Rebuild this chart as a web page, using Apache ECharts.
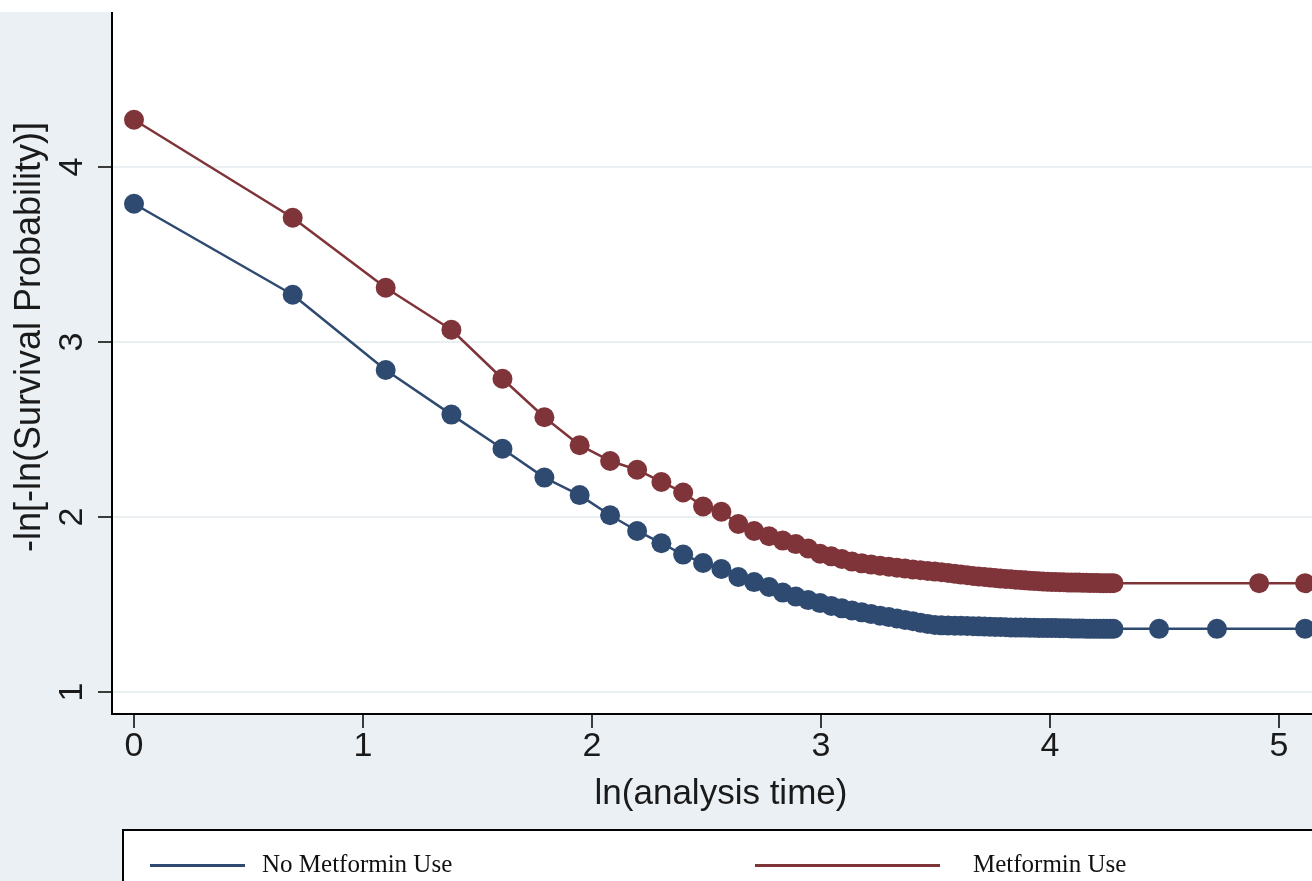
<!DOCTYPE html>
<html>
<head>
<meta charset="utf-8">
<script src="https://cdn.jsdelivr.net/npm/echarts@6/dist/echarts.min.js"></script>
<style>
html,body{margin:0;padding:0;background:#eaf0f3;}
#chart{width:1312px;height:881px;}
</style>
</head>
<body>
<div id="chart"></div>
<script>
// ln(analysis time) for the dense part of the curves
const lnTime = [0, 0.693, 1.099, 1.386, 1.609, 1.792, 1.946, 2.079, 2.197, 2.303,
  2.398, 2.485, 2.565, 2.639, 2.708, 2.773, 2.833, 2.890, 2.944, 2.996,
  3.045, 3.091, 3.135, 3.178, 3.219, 3.258, 3.296, 3.332, 3.367, 3.401,
  3.434, 3.466, 3.497, 3.526, 3.555, 3.584, 3.611, 3.638, 3.664, 3.689,
  3.714, 3.738, 3.761, 3.784, 3.807, 3.829, 3.850, 3.871, 3.892, 3.912,
  3.932, 3.951, 3.970, 3.989, 4.007, 4.025, 4.043, 4.060, 4.078, 4.094,
  4.111, 4.127, 4.143, 4.159, 4.174, 4.190, 4.205, 4.220, 4.234, 4.248,
  4.263, 4.277];

const noMetforminY = [3.79, 3.27, 2.84, 2.585, 2.39, 2.225, 2.125, 2.01, 1.92, 1.85,
  1.785, 1.737, 1.703, 1.657, 1.628, 1.60, 1.568, 1.545, 1.525, 1.508,
  1.492, 1.478, 1.466, 1.455, 1.445, 1.436, 1.428, 1.42, 1.412, 1.404,
  1.396, 1.389, 1.383, 1.381, 1.38, 1.379, 1.378, 1.377, 1.376, 1.375,
  1.374, 1.373, 1.372, 1.371, 1.370, 1.369, 1.369, 1.368, 1.368, 1.367,
  1.367, 1.366, 1.366, 1.365, 1.365, 1.365, 1.364, 1.364, 1.364, 1.363,
  1.363, 1.363, 1.363, 1.362, 1.362, 1.362, 1.362, 1.362, 1.361, 1.361,
  1.361, 1.361];

const metforminY = [4.27, 3.71, 3.31, 3.07, 2.79, 2.57, 2.41, 2.32, 2.27, 2.20,
  2.14, 2.06, 2.03, 1.96, 1.92, 1.89, 1.865, 1.845, 1.82, 1.79,
  1.775, 1.76, 1.745, 1.735, 1.728, 1.722, 1.716, 1.71, 1.705, 1.70,
  1.696, 1.692, 1.688, 1.684, 1.68, 1.675, 1.671, 1.667, 1.663, 1.660,
  1.657, 1.654, 1.651, 1.648, 1.646, 1.644, 1.642, 1.640, 1.638, 1.636,
  1.634, 1.633, 1.631, 1.630, 1.629, 1.628, 1.627, 1.627, 1.626, 1.626,
  1.625, 1.625, 1.624, 1.624, 1.623, 1.623, 1.623, 1.622, 1.622, 1.622,
  1.622, 1.622];

// sparse late points
const noMetforminTailX = [4.476, 4.729, 5.114];
const noMetforminTailY = [1.361, 1.361, 1.361];
const metforminTailX = [4.913, 5.114];
const metforminTailY = [1.622, 1.622];

const xTicks = [0, 1, 2, 3, 4, 5];
const yTicks = [1, 2, 3, 4];
const seriesNames = ['No Metformin Use', 'Metformin Use'];
const xTitle = 'ln(analysis time)';
const yTitle = '-ln[-ln(Survival Probability)]';

function pairs(xs, ys) { return xs.map((x, i) => [x, ys[i]]); }
const noMetData = pairs(lnTime, noMetforminY).concat(pairs(noMetforminTailX, noMetforminTailY));
const metData = pairs(lnTime, metforminY).concat(pairs(metforminTailX, metforminTailY));

const BLUE = '#2f4a71';
const RED = '#7f3439';
const sans = '"Liberation Sans", Arial, sans-serif';
const serif = '"Liberation Serif", "Times New Roman", serif';

const chart = echarts.init(document.getElementById('chart'), null, {renderer: 'canvas'});
chart.setOption({
  animation: false,
  backgroundColor: '#eaf0f3',
  grid: {
    left: 112, right: 0, top: 0, bottom: 167,
    show: true, backgroundColor: '#ffffff', borderWidth: 0
  },
  xAxis: {
    type: 'value', min: -0.0961, max: 5.144,
    axisLine: {show: true, onZero: false, lineStyle: {color: '#000', width: 2}},
    axisTick: {show: true, customValues: xTicks, length: 14, lineStyle: {color: '#000', width: 1.5}},
    axisLabel: {customValues: xTicks, fontSize: 34, fontFamily: sans, color: '#1a1a1a', margin: 16},
    splitLine: {show: false},
    name: xTitle, nameLocation: 'middle', nameGap: 63,
    nameTextStyle: {fontSize: 35, fontFamily: sans, color: '#1a1a1a', padding: [0, 0, 0, 18]}
  },
  yAxis: {
    type: 'value', min: 0.8743, max: 4.954,
    axisLine: {show: true, onZero: false, lineStyle: {color: '#000', width: 2}},
    axisTick: {show: true, customValues: yTicks, length: 14, lineStyle: {color: '#000', width: 1.5}},
    axisLabel: {customValues: yTicks, rotate: 90, fontSize: 34, fontFamily: sans, color: '#1a1a1a', margin: 22},
    splitLine: {show: true, lineStyle: {color: '#e3ebee', width: 1.5}},
    name: yTitle, nameLocation: 'middle', nameGap: 53, nameRotate: 90,
    nameTextStyle: {fontSize: 36, fontFamily: sans, color: '#1a1a1a', padding: [0, 0, 0, 40]}
  },
  legend: [
    {
      data: [seriesNames[0]], left: 145, top: 848, z: 10,
      icon: 'rect', itemWidth: 95, itemHeight: 3,
      textStyle: {fontFamily: serif, fontSize: 25, color: '#111', padding: [0, 0, 0, 12]}
    },
    {
      data: [seriesNames[1]], left: 750, top: 848, z: 10,
      icon: 'rect', itemWidth: 185, itemHeight: 3,
      textStyle: {fontFamily: serif, fontSize: 25, color: '#111', padding: [0, 0, 0, 28]}
    }
  ],
  graphic: [
    {type: 'rect', z: 1, shape: {x: 123, y: 830, width: 1300, height: 100},
     style: {fill: '#ffffff', stroke: '#000', lineWidth: 2}},
    {type: 'rect', z: 100, shape: {x: 0, y: 0, width: 1312, height: 12},
     style: {fill: '#ffffff'}}
  ],
  series: [
    {
      name: seriesNames[0], type: 'line', data: noMetData,
      symbol: 'circle', symbolSize: 20, showAllSymbol: true,
      itemStyle: {color: BLUE}, lineStyle: {color: BLUE, width: 2.5}
    },
    {
      name: seriesNames[1], type: 'line', data: metData,
      symbol: 'circle', symbolSize: 20, showAllSymbol: true,
      itemStyle: {color: RED}, lineStyle: {color: RED, width: 2.5}
    }
  ]
});
</script>
</body>
</html>
